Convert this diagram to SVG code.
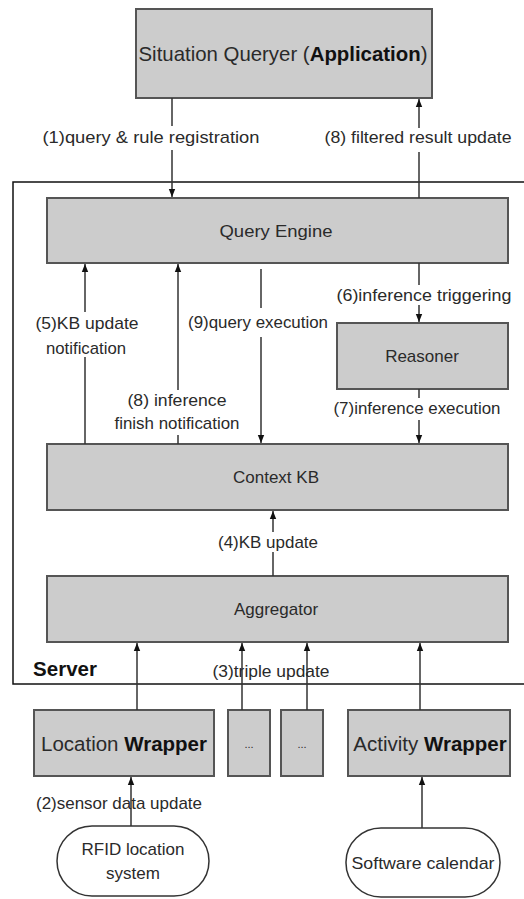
<svg xmlns="http://www.w3.org/2000/svg" width="524" height="899" viewBox="0 0 524 899">
<defs>
<marker id="ah" markerUnits="userSpaceOnUse" markerWidth="8" markerHeight="8" viewBox="0 0 8 8" refX="8" refY="4" orient="auto">
<path d="M0,0.8 L8,4 L0,7.2 Z" fill="#111"/>
</marker>
<style>
.box{fill:#cccccc;stroke:#555;stroke-width:2}
.oval{fill:#fff;stroke:#333;stroke-width:1.5}
.ln{stroke:#333;stroke-width:1.5;fill:none}
.t{font-family:"Liberation Sans",Arial,sans-serif;fill:#2a2a2a;text-anchor:middle;dominant-baseline:central}
.lbl{font-size:17px}
.node{font-size:17px}
.b{font-weight:bold;fill:#111}
</style>
</defs>
<rect width="524" height="899" fill="#fff"/>

<g id="server">
<rect x="13" y="182" width="530" height="502" fill="none" stroke="#111" stroke-width="1.5"/>
<text class="t b" x="65" y="668" font-size="20.5">Server</text>
</g>

<g id="application">
<rect class="box" x="136" y="9" width="296" height="89"/>
<text class="t" x="283" y="54" font-size="20.4">Situation Queryer (<tspan class="b">Application</tspan>)</text>
</g>

<g id="query-engine">
<rect class="box" x="47" y="198" width="461" height="65"/>
<text class="t node" x="276" y="231" textLength="113" lengthAdjust="spacingAndGlyphs">Query Engine</text>
</g>

<g id="reasoner">
<rect class="box" x="337" y="323" width="171" height="66"/>
<text class="t node" x="422" y="356">Reasoner</text>
</g>

<g id="context-kb">
<rect class="box" x="47" y="444" width="461" height="66"/>
<text class="t node" x="276" y="477">Context KB</text>
</g>

<g id="aggregator">
<rect class="box" x="47" y="576" width="461" height="66"/>
<text class="t node" x="276" y="609">Aggregator</text>
</g>

<g id="location-wrapper">
<rect class="box" x="34" y="710" width="180" height="66"/>
<text class="t" x="124" y="743" font-size="20.5">Location <tspan class="b">Wrapper</tspan></text>
</g>

<g id="wrapper-dots-1">
<rect class="box" x="228" y="710" width="42" height="66"/>
<text class="t" x="249" y="744" font-size="11" fill="#555">...</text>
</g>

<g id="wrapper-dots-2">
<rect class="box" x="281" y="710" width="42" height="66"/>
<text class="t" x="302" y="744" font-size="11" fill="#555">...</text>
</g>

<g id="activity-wrapper">
<rect class="box" x="348" y="710" width="162" height="66"/>
<text class="t" x="430" y="743" font-size="20.5">Activity <tspan class="b">Wrapper</tspan></text>
</g>

<g id="rfid">
<rect class="oval" x="57" y="826" width="152" height="70" rx="35" ry="35"/>
<text class="t node" x="133" y="849">RFID location</text>
<text class="t node" x="133" y="873">system</text>
</g>

<g id="software-calendar">
<rect class="oval" x="346" y="828" width="154" height="69" rx="35" ry="34"/>
<text class="t node" x="423" y="863" textLength="143" lengthAdjust="spacingAndGlyphs">Software calendar</text>
</g>

<g id="connectors">
<line class="ln" x1="172" y1="98" x2="172" y2="126"/>
<line class="ln" x1="172" y1="150" x2="172" y2="197" marker-end="url(#ah)"/>
<line class="ln" x1="419" y1="198" x2="419" y2="152"/>
<line class="ln" x1="419" y1="128" x2="419" y2="99" marker-end="url(#ah)"/>
<line class="ln" x1="85" y1="312" x2="85" y2="264" marker-end="url(#ah)"/>
<line class="ln" x1="85" y1="444" x2="85" y2="357"/>
<line class="ln" x1="178" y1="390" x2="178" y2="264" marker-end="url(#ah)"/>
<line class="ln" x1="178" y1="444" x2="178" y2="435"/>
<line class="ln" x1="261" y1="269" x2="261" y2="308"/>
<line class="ln" x1="261" y1="337" x2="261" y2="443" marker-end="url(#ah)"/>
<line class="ln" x1="419" y1="263" x2="419" y2="285"/>
<line class="ln" x1="419" y1="305" x2="419" y2="322" marker-end="url(#ah)"/>
<line class="ln" x1="419" y1="389" x2="419" y2="398"/>
<line class="ln" x1="419" y1="420" x2="419" y2="443" marker-end="url(#ah)"/>
<line class="ln" x1="273" y1="576" x2="273" y2="552"/>
<line class="ln" x1="273" y1="532" x2="273" y2="511" marker-end="url(#ah)"/>
<line class="ln" x1="137" y1="710" x2="137" y2="643" marker-end="url(#ah)"/>
<line class="ln" x1="242" y1="710" x2="242" y2="643" marker-end="url(#ah)"/>
<line class="ln" x1="307" y1="710" x2="307" y2="643" marker-end="url(#ah)"/>
<line class="ln" x1="420" y1="710" x2="420" y2="643" marker-end="url(#ah)"/>
<line class="ln" x1="131" y1="826" x2="131" y2="777" marker-end="url(#ah)"/>
<line class="ln" x1="422" y1="828" x2="422" y2="777" marker-end="url(#ah)"/>

<text class="t lbl" x="151" y="137" textLength="217" lengthAdjust="spacingAndGlyphs">(1)query &amp; rule registration</text>
<text class="t lbl" x="418" y="137" textLength="187" lengthAdjust="spacingAndGlyphs">(8) filtered result update</text>
<text class="t lbl" x="87" y="323" textLength="103" lengthAdjust="spacingAndGlyphs">(5)KB update</text>
<text class="t lbl" x="86" y="348" textLength="80" lengthAdjust="spacingAndGlyphs">notification</text>
<text class="t lbl" x="258" y="322" textLength="140" lengthAdjust="spacingAndGlyphs">(9)query execution</text>
<text class="t lbl" x="177" y="400" textLength="99" lengthAdjust="spacingAndGlyphs">(8) inference</text>
<text class="t lbl" x="177" y="423" textLength="125" lengthAdjust="spacingAndGlyphs">finish notification</text>
<text class="t lbl" x="424" y="295" textLength="175" lengthAdjust="spacingAndGlyphs">(6)inference triggering</text>
<text class="t lbl" x="417" y="408" textLength="167" lengthAdjust="spacingAndGlyphs">(7)inference execution</text>
<text class="t lbl" x="268" y="542" textLength="100" lengthAdjust="spacingAndGlyphs">(4)KB update</text>
<text class="t lbl" x="271" y="671" textLength="117" lengthAdjust="spacingAndGlyphs">(3)triple update</text>
<text class="t lbl" x="119" y="803" textLength="166" lengthAdjust="spacingAndGlyphs">(2)sensor data update</text>
</g>
</svg>
